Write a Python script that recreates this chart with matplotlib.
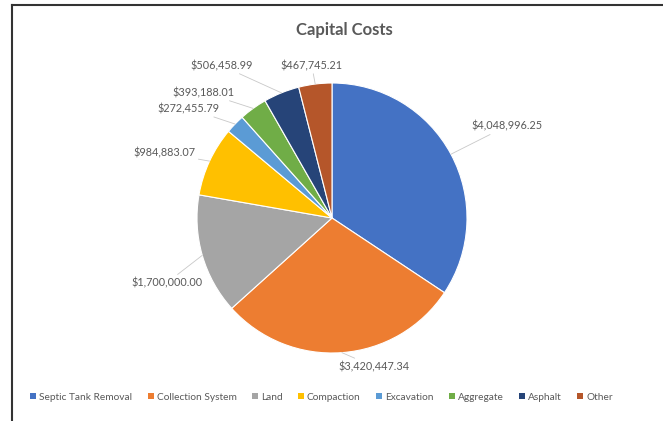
import numpy as np
import matplotlib.pyplot as plt
from matplotlib.patches import Patch

# Datos
categorias = ['Septic Tank Removal', 'Collection System', 'Land', 'Compaction',
              'Excavation', 'Aggregate', 'Asphalt', 'Other']
costos = [4048996.25, 3420447.34, 1700000.00, 984883.07,
          272455.79, 393188.01, 506458.99, 467745.21]
colores = ['#4472C4', '#ED7D31', '#A5A5A5', '#FFC000',
           '#5B9BD5', '#70AD47', '#264478', '#B5562A']

# posicion de etiquetas (en radios, respecto al centro) y alineacion
pos_etiquetas = [(1.03, 0.68), (0.31, -1.10), (-0.96, -0.48), (-1.01, 0.48),
                 (-0.83, 0.81), (-0.72, 0.93), (-0.59, 1.13), (-0.15, 1.13)]
alineacion = ['left', 'center', 'right', 'right', 'right', 'right', 'right', 'center']

gris = '#595959'
plt.rcParams['font.family'] = ['Lato', 'DejaVu Sans']

fig = plt.figure(figsize=(6.63, 4.21), dpi=100)
ax = fig.add_axes([0, 0, 1, 1])

cx, cy, r = 332, 203, 135
wedges, _ = ax.pie(costos, colors=colores, startangle=90, counterclock=False,
                   center=(cx, cy), radius=r,
                   wedgeprops=dict(edgecolor='white', linewidth=0.8))
ax.set_xlim(0, 663)
ax.set_ylim(0, 421)
ax.set_aspect('equal')
ax.axis('off')

for w, valor, (ux, uy), ha in zip(wedges, costos, pos_etiquetas, alineacion):
    ang = np.deg2rad((w.theta1 + w.theta2) / 2)
    borde = (cx + r * np.cos(ang), cy + r * np.sin(ang))
    ax.annotate(f'${valor:,.2f}', xy=borde, xytext=(cx + r * ux, cy + r * uy),
                ha=ha, va='center', fontsize=7.8, color=gris,
                arrowprops=dict(arrowstyle='-', color='#C8C8C8', lw=0.6,
                                shrinkA=0, shrinkB=0))

fig.text(0.52, 1 - 30 / 421, 'Capital Costs', ha='center', va='center',
         fontsize=12, fontweight='bold', color=gris)

handles = [Patch(facecolor=c, edgecolor='none') for c in colores]
fig.legend(handles, categorias, loc='center', bbox_to_anchor=(0.485, 1 - 397 / 421),
           ncol=8, frameon=False, fontsize=7.3, labelcolor=gris,
           handlelength=0.6, handleheight=0.6, handletextpad=0.3,
           columnspacing=1.5)

# marco
fig.add_artist(plt.Line2D([12 / 663, 12 / 663], [0, 1 - 5 / 421], color='#333333', lw=1.5))
fig.add_artist(plt.Line2D([12 / 663, 1], [1 - 5 / 421, 1 - 5 / 421], color='#333333', lw=1.5))

fig.savefig('out.png', dpi=100)
